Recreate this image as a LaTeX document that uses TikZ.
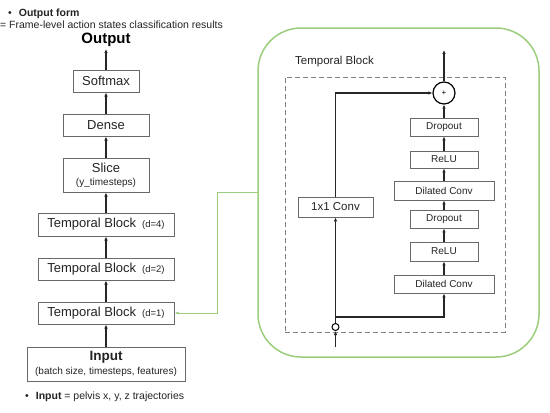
\documentclass[tikz,border=0pt]{standalone}
\usepackage{fontspec}
\setmainfont{Liberation Sans}
\usetikzlibrary{arrows.meta,positioning}

\definecolor{boxgray}{RGB}{105,105,105}
\definecolor{textgray}{RGB}{35,35,35}
\definecolor{blockgreen}{RGB}{155,205,125}
\newcommand{\dilation}[1]{{\fontsize{9.5}{11}\selectfont#1}}

\begin{document}
\begin{tikzpicture}[x=1pt, y=-1pt,
    layer/.style={draw=boxgray, line width=1pt, inner sep=0pt, align=center, text=textgray, font=\fontsize{13}{15}\selectfont},
    op/.style={draw=boxgray, line width=0.9pt, inner sep=0pt, align=center, text=textgray, minimum width=68pt, font=\fontsize{10}{12}\selectfont},
    arrow/.style={-{Latex[length=4pt,width=3.5pt]}, line width=1.3pt, black!85},
    link/.style={-{Latex[length=4pt,width=3pt]}, line width=1pt, blockgreen},
    note/.style={font=\fontsize{10.5}{12}\selectfont, anchor=west, inner sep=0pt, text=textgray},
]
\useasboundingbox (0,0) rectangle (550,413);

% Notes
\node[note] (outnote) at (8,14) {\textbullet\hspace{7pt}\textbf{Output form}};
\node[note] (outdesc) at (0,25) {= Frame-level action states classification results};
\node[note] (innote) at (25,397) {\textbullet\hspace{7pt}\textbf{Input} = pelvis x, y, z trajectories};

% Left stack
\node[inner sep=2pt, font=\fontsize{15}{17}\selectfont\bfseries] (output) at (106,40) {Output};
\node[layer, minimum width=66pt, minimum height=22pt] (softmax) at (106,81) {Softmax};
\node[layer, minimum width=86pt, minimum height=22pt] (dense) at (106,125) {Dense};
\node[layer, minimum width=86pt, minimum height=34pt] (slice) at (106,175) {Slice\\[-2pt]{\fontsize{10}{12}\selectfont(y\_timesteps)}};
\node[layer, minimum width=136pt, minimum height=23pt] (tb4) at (106,224.5) {Temporal Block\hspace{6pt}\dilation{(d=4)}};
\node[layer, minimum width=136pt, minimum height=22pt] (tb2) at (106,269) {Temporal Block\hspace{6pt}\dilation{(d=2)}};
\node[layer, minimum width=136pt, minimum height=22pt] (tb1) at (106,313) {Temporal Block\hspace{6pt}\dilation{(d=1)}};
\node[layer, minimum width=158pt, minimum height=34pt] (input) at (106,364) {{\fontsize{13.5}{15}\selectfont\bfseries Input}\\[-1pt]{\fontsize{10}{12}\selectfont(batch size, timesteps, features)}};

\draw[arrow] (input) -- (tb1);
\draw[arrow] (tb1) -- (tb2);
\draw[arrow] (tb2) -- (tb4);
\draw[arrow] (tb4) -- (slice);
\draw[arrow] (slice) -- (dense);
\draw[arrow] (dense) -- (softmax);
\draw[arrow] (softmax) -- (output);

% Temporal block detail
\node[draw=blockgreen, line width=1.5pt, rounded corners=43pt, minimum width=281pt, minimum height=329pt] (block) at (398.5,192.5) {};
\node[draw=gray, line width=0.9pt, dash pattern=on 5pt off 3pt, minimum width=220pt, minimum height=255pt] (tcn) at (395,204.5) {};
\node[anchor=west, inner sep=0pt, text=textgray, font=\fontsize{11.5}{13}\selectfont] (title) at (295,62) {Temporal Block};

\node[circle, draw, line width=1.2pt, minimum size=22pt, inner sep=0pt, font=\fontsize{8}{8}\selectfont] (plus) at (444,93) {+};
\node[op, minimum height=18pt] (drop2) at (444,127) {Dropout};
\node[op, minimum height=17pt] (relu2) at (444,159.5) {ReLU};
\node[op, minimum width=100pt, minimum height=19pt] (dconv2) at (444,190.5) {Dilated Conv};
\node[op, minimum height=18pt] (drop1) at (444,219) {Dropout};
\node[op, minimum height=19pt] (relu1) at (444,251.5) {ReLU};
\node[op, minimum width=100pt, minimum height=18pt] (dconv1) at (444,284) {Dilated Conv};
\node[op, minimum width=75pt, minimum height=20pt, font=\fontsize{11.5}{13}\selectfont] (conv) at (335.5,207) {1x1 Conv};
\node[circle, draw, line width=1pt, minimum size=7pt, inner sep=0pt, fill=white] (split) at (335.5,327) {};
\coordinate (fork) at (335.5,317);
\coordinate (tcnin) at (335.5,347);
\coordinate (tcnout) at (444,50);

\draw[arrow] (tcnin) -- (split);
\draw[arrow] (split) -- (conv);
\draw[arrow] (fork) -| (dconv1);
\draw[arrow] (dconv1) -- (relu1);
\draw[arrow] (relu1) -- (drop1);
\draw[arrow] (drop1) -- (dconv2);
\draw[arrow] (dconv2) -- (relu2);
\draw[arrow] (relu2) -- (drop2);
\draw[arrow] (drop2) -- (plus);
\draw[arrow] (conv) |- (plus);
\draw[arrow] (plus) -- (tcnout);

% Link to first block
\coordinate (tap) at (258,192);
\draw[link] (tap) -- ++(-41,0) |- (tb1.east);

\end{tikzpicture}
\end{document}
